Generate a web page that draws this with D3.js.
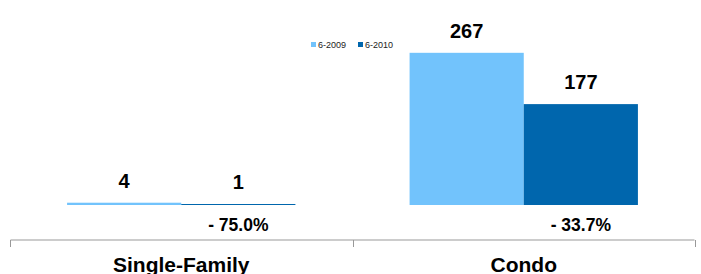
<!DOCTYPE html>
<html><head><meta charset="utf-8">
<script src="https://cdn.jsdelivr.net/npm/d3@7"></script>
<style>body{margin:0;background:#fff}svg{display:block;font-family:"Liberation Sans",Arial,sans-serif}</style>
</head><body>
<svg id="c" width="701" height="274"></svg>
<script>
const categories = ["Single-Family", "Condo"];
const seriesNames = ["6-2009", "6-2010"];
const values2009 = [4, 267];
const values2010 = [1, 177];
const changeLabels = ["- 75.0%", "- 33.7%"];
const colors = ["#72C3FC", "#0066AD"];

const svg = d3.select("#c");
const x0 = d3.scaleBand().domain(categories).range([10, 695]).padding(0);
const x1 = d3.scaleBand().domain(seriesNames).range([0, x0.bandwidth()]).paddingInner(0).paddingOuter(0.5);
const y = d3.scaleLinear().domain([0, 300]).range([205, 34]);
const color = d3.scaleOrdinal().domain(seriesNames).range(colors);

const data = categories.map((c, i) => ({cat: c, vals: [
  {s: seriesNames[0], v: values2009[i]},
  {s: seriesNames[1], v: values2010[i]}
], change: changeLabels[i]}));

const g = svg.selectAll("g.cat").data(data).join("g").attr("class", "cat")
  .attr("transform", d => `translate(${x0(d.cat)},0)`);

g.selectAll("rect").data(d => d.vals).join("rect")
  .attr("x", d => x1(d.s))
  .attr("width", x1.bandwidth())
  .attr("y", d => Math.min(y(d.v), y(0) - 1))
  .attr("height", d => Math.max(y(0) - y(d.v), 1))
  .attr("fill", d => color(d.s));

g.selectAll("text.val").data(d => d.vals).join("text").attr("class", "val")
  .attr("x", d => x1(d.s) + x1.bandwidth() / 2)
  .attr("y", d => y(d.v) - 15)
  .attr("text-anchor", "middle")
  .attr("font-size", 20).attr("font-weight", "bold").attr("fill", "#000")
  .text(d => d.v);

g.append("text")
  .attr("x", x1(seriesNames[1]) + x1.bandwidth() / 2)
  .attr("y", 231)
  .attr("text-anchor", "middle")
  .attr("font-size", 17.5).attr("font-weight", "bold").attr("fill", "#000")
  .text(d => d.change);

// category axis
const axis = d3.axisBottom(x0).tickSize(0).tickPadding(24);
const ax = svg.append("g").attr("transform", "translate(0,240)").call(axis);
ax.select(".domain").attr("stroke", "#999").attr("d", "M10.5,0H694.5");
ax.selectAll(".tick text").attr("font-size", 21).attr("font-weight", "bold")
  .attr("fill", "#000").attr("font-family", "Liberation Sans, Arial, sans-serif")
  .attr("dy", 0).attr("y", 32);
const bounds = [x0.range()[0]].concat(categories.map(c => x0(c) + x0.bandwidth()));
ax.selectAll("line.sep").data(bounds).join("line").attr("class", "sep")
  .attr("x1", d => Math.round(d) + 0.5).attr("x2", d => Math.round(d) + 0.5)
  .attr("y1", 0).attr("y2", 7).attr("stroke", "#999");

// legend
const leg = svg.append("g").attr("transform", "translate(311,42)");
const li = leg.selectAll("g").data(seriesNames).join("g")
  .attr("transform", (d, i) => `translate(${i * 47},0)`);
li.append("rect").attr("width", 5).attr("height", 5).attr("fill", d => color(d));
li.append("text").attr("x", 7).attr("y", 5.5).attr("font-size", 9).attr("fill", "#222").text(d => d);
</script>
</body></html>
